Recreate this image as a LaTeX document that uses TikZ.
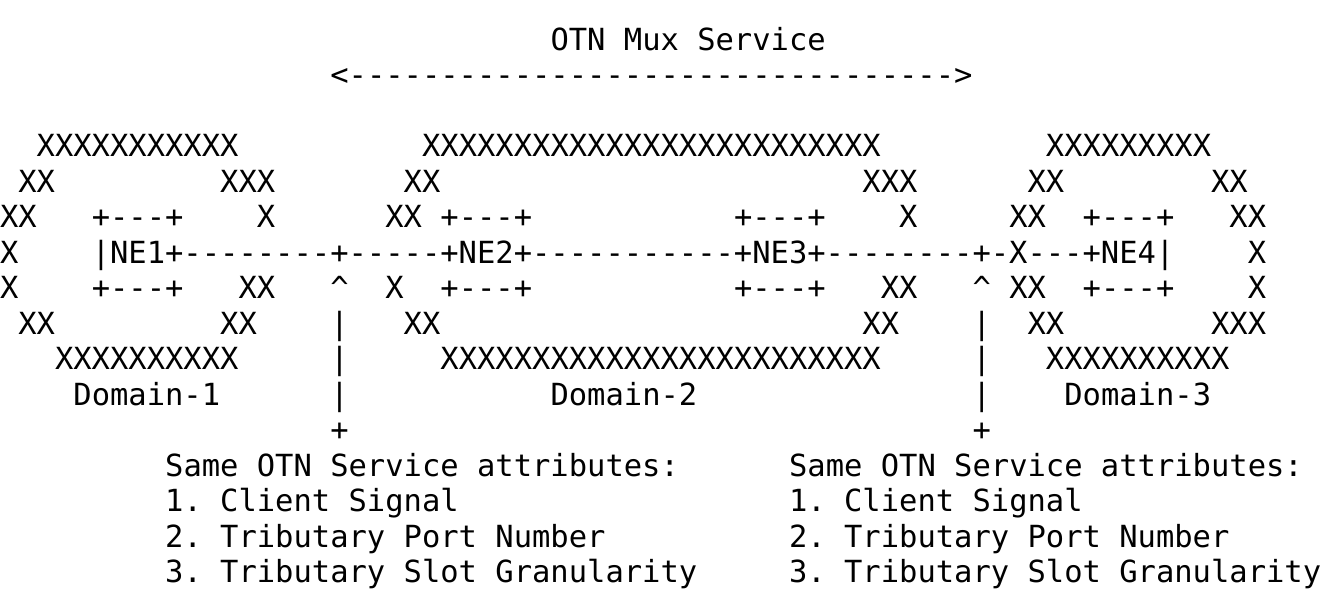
\documentclass[tikz,border=0pt]{standalone}
\usepackage{fontspec}
\setmonofont{DejaVu Sans Mono}
\newcommand\cw{18.35}
\newcommand\lh{35.5}
\newcommand\seg[4]{\node[txt] (#1) at ({#3*\cw pt},{-50pt-#2*\lh pt}) {#4};}
\tikzset{txt/.style={anchor=base west, inner sep=0pt, outer sep=0pt,
  font=\ttfamily\fontsize{30.48pt}{35.5pt}\selectfont\frenchspacing, text=black}}
\begin{document}
\begin{tikzpicture}
\fill[white] (0,0) rectangle (1321pt,-606pt);
\useasboundingbox (0,0) rectangle (1321pt,-606pt);
% title and arrow
\seg{title}{0}{30}{OTN Mux Service}
\seg{arrow}{1}{18}{<--------------------------------->}
% row 3
\seg{r3a}{3}{2}{XXXXXXXXXXX}
\seg{r3b}{3}{23}{XXXXXXXXXXXXXXXXXXXXXXXXX}
\seg{r3c}{3}{57}{XXXXXXXXX}
% row 4
\seg{r4a}{4}{1}{XX}
\seg{r4b}{4}{12}{XXX}
\seg{r4c}{4}{22}{XX}
\seg{r4d}{4}{47}{XXX}
\seg{r4e}{4}{56}{XX}
\seg{r4f}{4}{66}{XX}
% row 5
\seg{r5a}{5}{0}{XX}
\seg{r5b}{5}{5}{+---+}
\seg{r5c}{5}{14}{X}
\seg{r5d}{5}{21}{XX}
\seg{r5e}{5}{24}{+---+}
\seg{r5f}{5}{40}{+---+}
\seg{r5g}{5}{49}{X}
\seg{r5h}{5}{55}{XX}
\seg{r5i}{5}{59}{+---+}
\seg{r5j}{5}{67}{XX}
% row 6
\seg{r6a}{6}{0}{X}
\seg{r6b}{6}{5}{|NE1+--------+-----+NE2+-----------+NE3+--------+-X---+NE4|}
\seg{r6c}{6}{68}{X}
% row 7
\seg{r7a}{7}{0}{X}
\seg{r7b}{7}{5}{+---+}
\seg{r7c}{7}{13}{XX}
\seg{r7d}{7}{18}{\textasciicircum}
\seg{r7e}{7}{21}{X}
\seg{r7f}{7}{24}{+---+}
\seg{r7g}{7}{40}{+---+}
\seg{r7h}{7}{48}{XX}
\seg{r7i}{7}{53}{\textasciicircum}
\seg{r7j}{7}{55}{XX}
\seg{r7k}{7}{59}{+---+}
\seg{r7l}{7}{68}{X}
% row 8
\seg{r8a}{8}{1}{XX}
\seg{r8b}{8}{12}{XX}
\seg{r8c}{8}{18}{|}
\seg{r8d}{8}{22}{XX}
\seg{r8e}{8}{47}{XX}
\seg{r8f}{8}{53}{|}
\seg{r8g}{8}{56}{XX}
\seg{r8h}{8}{66}{XXX}
% row 9
\seg{r9a}{9}{3}{XXXXXXXXXX}
\seg{r9b}{9}{18}{|}
\seg{r9c}{9}{24}{XXXXXXXXXXXXXXXXXXXXXXXX}
\seg{r9d}{9}{53}{|}
\seg{r9e}{9}{57}{XXXXXXXXXX}
% row 10
\seg{r10a}{10}{4}{Domain-1}
\seg{r10b}{10}{18}{|}
\seg{r10c}{10}{30}{Domain-2}
\seg{r10d}{10}{53}{|}
\seg{r10e}{10}{58}{Domain-3}
% row 11
\seg{r11a}{11}{18}{+}
\seg{r11b}{11}{53}{+}
% attribute lists
\seg{l1}{12}{9}{Same OTN Service attributes:}
\seg{l2}{13}{9}{1. Client Signal}
\seg{l3}{14}{9}{2. Tributary Port Number}
\seg{l4}{15}{9}{3. Tributary Slot Granularity}
\seg{m1}{12}{43}{Same OTN Service attributes:}
\seg{m2}{13}{43}{1. Client Signal}
\seg{m3}{14}{43}{2. Tributary Port Number}
\seg{m4}{15}{43}{3. Tributary Slot Granularity}
\end{tikzpicture}
\end{document}
